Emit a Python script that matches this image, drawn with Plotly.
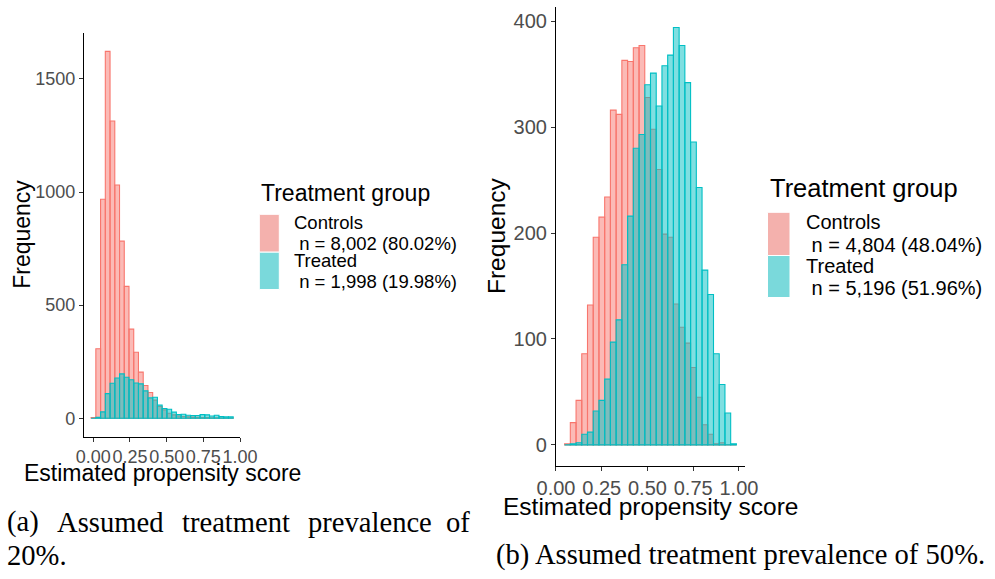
import plotly.graph_objects as go

W, H = 995, 579

# ---- Panel (a): assumed treatment prevalence of 20% ----
bins_a = [0.0011, 0.0334, 0.0657, 0.0979, 0.1302, 0.1625, 0.1948, 0.2271, 0.2593, 0.2916,
          0.3239, 0.3562, 0.3885, 0.4207, 0.4530, 0.4853, 0.5176, 0.5499, 0.5821, 0.6144,
          0.6467, 0.6790, 0.7113, 0.7435, 0.7758, 0.8081, 0.8404, 0.8727, 0.9049, 0.9372]
binwidth_a = 0.03228
controls_a = [3, 307, 968, 1622, 1314, 1031, 783, 583, 394, 292,
              204, 145, 114, 80, 52, 37, 22, 15, 10, 8,
              6, 5, 4, 3, 3, 2, 2, 1, 1, 1]
treated_a = [0, 4, 28, 109, 155, 178, 196, 181, 170, 156,
             152, 121, 90, 93, 58, 43, 40, 27, 16, 18,
             13, 12, 12, 16, 15, 10, 13, 7, 6, 6]
n_a = [8002, 1998]

# ---- Panel (b): assumed treatment prevalence of 50% ----
bins_b = [0.0627, 0.0940, 0.1253, 0.1566, 0.1879, 0.2192, 0.2505, 0.2818, 0.3131, 0.3444,
          0.3757, 0.4070, 0.4383, 0.4696, 0.5009, 0.5322, 0.5635, 0.5948, 0.6261, 0.6574,
          0.6887, 0.7200, 0.7513, 0.7826, 0.8139, 0.8452, 0.8765, 0.9078, 0.9391, 0.9704]
binwidth_b = 0.0313
controls_b = [1, 21, 42, 86, 132, 196, 215, 234, 316, 312,
              363, 362, 375, 377, 328, 298, 260, 199, 196, 133,
              111, 96, 73, 45, 19, 10, 1, 2, 0, 0]
treated_b = [0, 1, 2, 10, 12, 32, 42, 62, 97, 118,
             170, 216, 280, 293, 340, 351, 320, 358, 368, 394,
             377, 342, 286, 243, 165, 142, 86, 57, 30, 1]
n_b = [4804, 5196]

groups = ["Controls", "Treated"]
x_tickvals = [0, 0.25, 0.5, 0.75, 1.0]
x_ticktext = ["0.00", "0.25", "0.50", "0.75", "1.00"]
y_ticks_a = [0, 500, 1000, 1500]
y_ticks_b = [0, 100, 200, 300, 400]

x_title = "Estimated propensity score"
y_title = "Frequency"
legend_title = "Treatment group"
caption_a_words = ["(a)", "Assumed", "treatment", "prevalence", "of"]
caption_a_line2 = "20%."
caption_b = "(b) Assumed treatment prevalence of 50%."

FILL = ["rgba(248,118,109,0.5)", "rgba(0,191,196,0.5)"]
LINE = ["#F8766D", "#00BFC4"]
KEY = ["#F4B1AD", "#7AD9DB"]
SANS = "Liberation Sans, Arial, sans-serif"
SERIF = "Liberation Serif, Times New Roman, serif"


def px(x):
    return x / W


def py(y):
    return 1 - y / H


def x_range(centres, width):
    lo = centres[0] - width / 2
    hi = centres[-1] + width / 2
    pad = 0.05 * (hi - lo)
    return [lo - pad, hi + pad]


def y_range(*series):
    top = max(max(s) for s in series)
    return [-0.05 * top, 1.05 * top]


def legend_labels(counts):
    total = sum(counts)
    return [(g, "\u00a0n = {:,} ({:.2f}%)".format(n, 100 * n / total))
            for g, n in zip(groups, counts)]


fig = go.Figure()

panels = [
    dict(bins=bins_a, bw=binwidth_a, series=[controls_a, treated_a], xa="x", ya="y"),
    dict(bins=bins_b, bw=binwidth_b, series=[controls_b, treated_b], xa="x2", ya="y2"),
]
for p in panels:
    for i, s in enumerate(p["series"]):
        fig.add_trace(go.Bar(
            x=p["bins"], y=s, width=p["bw"], name=groups[i],
            marker=dict(color=FILL[i], line=dict(color=LINE[i], width=1.1)),
            xaxis=p["xa"], yaxis=p["ya"], showlegend=False, hoverinfo="skip",
        ))

axis_common = dict(
    showline=True, linecolor="black", linewidth=1.2,
    ticks="outside", ticklen=4, tickwidth=1, tickcolor="#333333",
    showgrid=False, zeroline=False, fixedrange=True, automargin=False,
)

fig.update_layout(
    width=W, height=H,
    margin=dict(l=0, r=0, t=0, b=0, autoexpand=False),
    paper_bgcolor="white", plot_bgcolor="white",
    barmode="overlay",
    xaxis=dict(domain=[px(84), px(240.3)], range=x_range(bins_a, binwidth_a),
               tickvals=x_tickvals, ticktext=x_ticktext, tickangle=0,
               tickfont=dict(family=SANS, size=18, color="#4D4D4D"),
               anchor="y", **axis_common),
    yaxis=dict(domain=[py(436.6), py(33)], range=y_range(controls_a, treated_a),
               tickvals=y_ticks_a, ticktext=[str(v) for v in y_ticks_a],
               tickfont=dict(family=SANS, size=18, color="#4D4D4D"),
               anchor="x", **axis_common),
    xaxis2=dict(domain=[px(556), px(745)], range=x_range(bins_b, binwidth_b),
                tickvals=x_tickvals, ticktext=x_ticktext, tickangle=0,
                tickfont=dict(family=SANS, size=20, color="#4D4D4D"),
                anchor="y2", **axis_common),
    yaxis2=dict(domain=[py(465.7), py(6.7)], range=y_range(controls_b, treated_b),
                tickvals=y_ticks_b, ticktext=[str(v) for v in y_ticks_b],
                tickfont=dict(family=SANS, size=20, color="#4D4D4D"),
                anchor="x2", **axis_common),
)

annotations = []
shapes = []


def text(x, y, s, size, xanchor="left", family=SANS, color="black", angle=0):
    annotations.append(dict(
        x=px(x), y=py(y), xref="paper", yref="paper", text=s, showarrow=False,
        xanchor=xanchor, yanchor="middle", textangle=angle,
        font=dict(family=family, size=size, color=color),
    ))


# Axis titles
text(22, 234.8, y_title, 23, xanchor="center", angle=-90)
text(162, 473, x_title, 23, xanchor="center")
text(496, 236, y_title, 24.5, xanchor="center", angle=-90)
text(650.5, 506, x_title, 24.5, xanchor="center")

# Legends drawn beside each panel
legends = [
    dict(counts=n_a, title_xy=(259.3, 193), size_t=23, size_l=18.5,
         key_x=(259.3, 279.3), key_y=[(214.3, 252.2), (252.2, 289.5)],
         label_x=291.7, label_y=[(222.5, 243.5), (260.5, 281.5)]),
    dict(counts=n_b, title_xy=(768.3, 188.3), size_t=25.5, size_l=20,
         key_x=(767.5, 790), key_y=[(212.3, 255.5), (255.5, 297.5)],
         label_x=804.3, label_y=[(222.5, 245.2), (265.5, 288.2)]),
]
for lg in legends:
    text(lg["title_xy"][0], lg["title_xy"][1], legend_title, lg["size_t"])
    for i, (g, nline) in enumerate(legend_labels(lg["counts"])):
        y0, y1 = lg["key_y"][i]
        shapes.append(dict(type="rect", xref="paper", yref="paper",
                           x0=px(lg["key_x"][0]), x1=px(lg["key_x"][1]),
                           y0=py(y1), y1=py(y0),
                           fillcolor=KEY[i], line=dict(color="white", width=1)))
        text(lg["label_x"], lg["label_y"][i][0], g, lg["size_l"])
        text(lg["label_x"], lg["label_y"][i][1], nline, lg["size_l"])

# Sub-figure captions (first line of (a) is justified)
cap_size = 28.6
word_left = [5, 54.9, 179.5, 305.7]
for w, xl in zip(caption_a_words[:-1], word_left):
    text(xl, 522, w, cap_size, family=SERIF)
text(471.7, 522, caption_a_words[-1], cap_size, xanchor="right", family=SERIF)
text(5, 555, caption_a_line2, cap_size, family=SERIF)
text(494, 555, caption_b, cap_size, family=SERIF)

fig.update_layout(annotations=annotations, shapes=shapes)

fig.write_html("out.html", include_plotlyjs=True, config={"displayModeBar": False})
